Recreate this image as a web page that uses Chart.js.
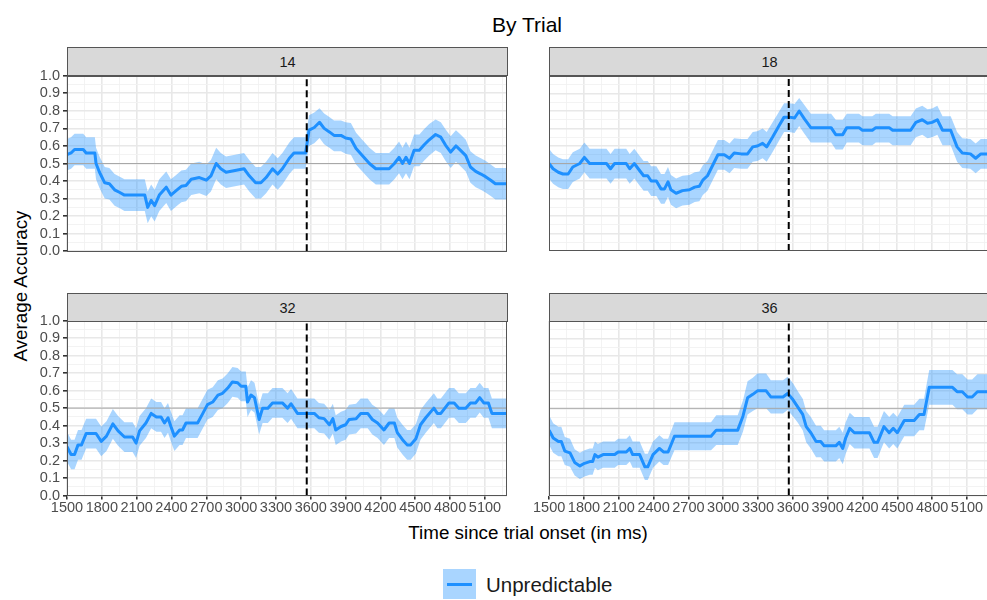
<!DOCTYPE html>
<html>
<head>
<meta charset="utf-8">
<script src="https://cdn.jsdelivr.net/npm/chart.js@4.4.1/dist/chart.umd.min.js"></script>
<style>
html,body{margin:0;padding:0;}
body{width:987px;height:600px;position:relative;overflow:hidden;background:#fff;font-family:"Liberation Sans",Arial,Helvetica,sans-serif;color:#000;}
.wrap{position:absolute;}
.wrap canvas{display:block;}
.strip{position:absolute;height:29px;width:441px;background:#d9d9d9;border:1px solid #555;box-sizing:border-box;font-size:14.5px;color:#1a1a1a;display:flex;align-items:center;justify-content:center;}
#title{position:absolute;left:527px;top:25px;transform:translate(-50%,-50%);font-size:21px;white-space:nowrap;}
#xtitle{position:absolute;left:528px;top:533px;transform:translate(-50%,-50%);font-size:18.8px;white-space:nowrap;}
#ytitle{position:absolute;left:21px;top:286px;transform:translate(-50%,-50%) rotate(-90deg);font-size:18.8px;white-space:nowrap;}
#legkey{position:absolute;left:443px;top:569px;width:33px;height:30px;background:rgba(30,144,255,0.38);}
#legkey div{position:absolute;left:4px;top:14px;width:25px;height:3px;background:#1E90FF;}
#legtext{position:absolute;left:486px;top:585px;transform:translateY(-50%);font-size:20.5px;color:#1a1a1a;white-space:nowrap;}
</style>
</head>
<body>
<div id="title">By Trial</div>
<div id="xtitle">Time since trial onset (in ms)</div>
<div id="ytitle">Average Accuracy</div>
<div id="legkey"><div></div></div>
<div id="legtext">Unpredictable</div>
<script>
// ---------- data ----------
const trials = ['14', '18', '32', '36'];
const seriesName = 'Unpredictable';
const X_MIN = 1500, X_MAX = 5290;
const onsetLine = 3565;      // dashed vertical reference (ms)
const chanceLevel = 0.5;     // grey horizontal reference
const xMajor = [1500, 1800, 2100, 2400, 2700, 3000, 3300, 3600, 3900, 4200, 4500, 4800, 5100];
const xTickLabels = ['1500', '1800', '2100', '2400', '2700', '3000', '3300', '3600', '3900', '4200', '4500', '4800', '5100'];
const yMajor = [0, 0.1, 0.2, 0.3, 0.4, 0.5, 0.6, 0.7, 0.8, 0.9, 1.0];
const yTickLabels = ['0.0', '0.1', '0.2', '0.3', '0.4', '0.5', '0.6', '0.7', '0.8', '0.9', '1.0'];

// Trial 14
const time14 = [1500,1535,1565,1640,1665,1740,1750,1780,1825,1865,1910,1955,1995,2170,2195,2225,2255,2295,2355,2395,2440,2485,2525,2570,2640,2700,2740,2785,2825,2870,3025,3070,3125,3170,3215,3270,3315,3355,3415,3455,3555,3585,3630,3675,3715,3760,3800,3860,3900,3945,3990,4030,4105,4160,4275,4320,4360,4390,4420,4450,4490,4535,4575,4620,4675,4720,4760,4805,4850,4890,4935,4975,5020,5065,5105,5150,5190,5290];
const acc14 = [0.55,0.56,0.58,0.58,0.56,0.56,0.50,0.45,0.39,0.385,0.35,0.335,0.32,0.32,0.25,0.29,0.26,0.32,0.365,0.32,0.345,0.37,0.375,0.41,0.42,0.405,0.43,0.50,0.47,0.45,0.47,0.43,0.39,0.39,0.42,0.47,0.44,0.47,0.53,0.56,0.56,0.69,0.705,0.735,0.70,0.68,0.66,0.66,0.645,0.64,0.585,0.555,0.50,0.47,0.47,0.50,0.535,0.50,0.535,0.50,0.575,0.575,0.605,0.635,0.665,0.65,0.605,0.565,0.60,0.575,0.545,0.48,0.455,0.44,0.425,0.405,0.385,0.385];
const upper14 = [0.64,0.65,0.67,0.67,0.65,0.65,0.59,0.54,0.48,0.475,0.44,0.425,0.41,0.41,0.34,0.38,0.35,0.41,0.455,0.41,0.435,0.46,0.465,0.50,0.51,0.495,0.52,0.59,0.56,0.54,0.56,0.52,0.48,0.48,0.51,0.56,0.53,0.56,0.62,0.65,0.65,0.775,0.79,0.815,0.785,0.765,0.745,0.745,0.735,0.73,0.675,0.645,0.59,0.56,0.56,0.59,0.625,0.59,0.625,0.59,0.665,0.665,0.695,0.725,0.75,0.735,0.695,0.655,0.69,0.665,0.635,0.57,0.545,0.53,0.515,0.495,0.475,0.475];
const lower14 = [0.46,0.47,0.49,0.49,0.47,0.47,0.41,0.36,0.30,0.295,0.26,0.245,0.23,0.23,0.16,0.20,0.17,0.23,0.275,0.23,0.255,0.28,0.285,0.32,0.33,0.315,0.34,0.41,0.38,0.36,0.38,0.34,0.30,0.30,0.33,0.38,0.35,0.38,0.44,0.47,0.47,0.60,0.615,0.645,0.61,0.59,0.57,0.57,0.555,0.55,0.495,0.465,0.41,0.38,0.38,0.41,0.445,0.41,0.445,0.41,0.485,0.485,0.515,0.545,0.575,0.56,0.515,0.475,0.51,0.485,0.455,0.39,0.365,0.35,0.335,0.315,0.295,0.295];

// Trial 18
const time18 = [1500,1535,1580,1620,1665,1705,1765,1805,1850,1995,2030,2065,2165,2195,2235,2280,2315,2350,2380,2425,2465,2495,2525,2550,2595,2650,2710,2755,2795,2825,2865,2910,2955,3010,3055,3095,3155,3210,3255,3295,3340,3375,3425,3485,3525,3570,3615,3655,3700,3755,3930,3970,4030,4065,4170,4200,4285,4315,4430,4460,4615,4660,4715,4760,4800,4845,4890,4960,5015,5060,5130,5175,5220,5290];
const acc18 = [0.50,0.47,0.45,0.44,0.44,0.48,0.50,0.535,0.50,0.50,0.47,0.50,0.50,0.47,0.50,0.46,0.43,0.43,0.40,0.40,0.355,0.355,0.395,0.35,0.33,0.345,0.35,0.365,0.37,0.405,0.43,0.49,0.55,0.55,0.53,0.56,0.555,0.555,0.595,0.60,0.615,0.595,0.65,0.72,0.765,0.765,0.76,0.80,0.755,0.705,0.705,0.665,0.665,0.705,0.705,0.69,0.69,0.705,0.705,0.69,0.69,0.735,0.75,0.73,0.735,0.75,0.69,0.69,0.595,0.56,0.555,0.53,0.555,0.555];
const upper18 = [0.585,0.555,0.535,0.525,0.525,0.565,0.585,0.62,0.585,0.585,0.555,0.585,0.585,0.555,0.585,0.545,0.515,0.515,0.485,0.485,0.44,0.44,0.48,0.435,0.415,0.43,0.435,0.45,0.455,0.49,0.515,0.575,0.635,0.635,0.615,0.645,0.64,0.64,0.68,0.685,0.70,0.68,0.735,0.80,0.845,0.845,0.84,0.875,0.835,0.785,0.785,0.75,0.75,0.785,0.785,0.77,0.77,0.785,0.785,0.77,0.77,0.815,0.83,0.81,0.815,0.83,0.77,0.77,0.68,0.645,0.64,0.615,0.64,0.64];
const lower18 = [0.415,0.385,0.365,0.355,0.355,0.395,0.415,0.45,0.415,0.415,0.385,0.415,0.415,0.385,0.415,0.375,0.345,0.345,0.315,0.315,0.27,0.27,0.31,0.265,0.245,0.26,0.265,0.28,0.285,0.32,0.345,0.405,0.465,0.465,0.445,0.475,0.47,0.47,0.51,0.515,0.53,0.51,0.565,0.635,0.68,0.68,0.675,0.715,0.67,0.62,0.62,0.58,0.58,0.62,0.62,0.605,0.605,0.62,0.62,0.605,0.605,0.65,0.665,0.645,0.65,0.665,0.605,0.605,0.51,0.475,0.47,0.445,0.47,0.47];

// Trial 32
const time32 = [1500,1535,1565,1595,1625,1665,1750,1795,1840,1895,1940,1995,2065,2095,2125,2180,2225,2270,2310,2340,2370,2395,2425,2470,2495,2525,2625,2670,2710,2755,2800,2840,2885,2925,2970,3000,3040,3055,3085,3115,3155,3185,3230,3270,3355,3400,3430,3485,3630,3670,3715,3760,3790,3815,3860,3900,3930,3990,4030,4090,4130,4175,4230,4275,4320,4345,4390,4430,4460,4505,4545,4590,4660,4690,4720,4790,4835,4875,4935,4975,5020,5055,5090,5130,5160,5290];
const acc32 = [0.28,0.235,0.235,0.29,0.29,0.355,0.355,0.31,0.34,0.41,0.37,0.335,0.335,0.30,0.37,0.415,0.47,0.45,0.45,0.415,0.445,0.395,0.34,0.375,0.375,0.415,0.415,0.47,0.52,0.535,0.575,0.585,0.615,0.65,0.645,0.625,0.625,0.535,0.575,0.56,0.435,0.50,0.50,0.53,0.53,0.50,0.525,0.47,0.47,0.445,0.44,0.405,0.44,0.375,0.395,0.405,0.435,0.44,0.47,0.47,0.435,0.415,0.375,0.415,0.415,0.36,0.32,0.29,0.29,0.325,0.405,0.445,0.50,0.47,0.47,0.53,0.53,0.50,0.50,0.53,0.53,0.56,0.53,0.53,0.47,0.47];
const upper32 = [0.365,0.32,0.32,0.375,0.375,0.44,0.44,0.395,0.425,0.495,0.455,0.42,0.42,0.385,0.455,0.50,0.555,0.535,0.535,0.50,0.53,0.48,0.425,0.46,0.46,0.50,0.50,0.555,0.605,0.62,0.66,0.67,0.70,0.735,0.73,0.71,0.71,0.62,0.66,0.645,0.52,0.585,0.585,0.615,0.615,0.585,0.61,0.555,0.555,0.53,0.525,0.49,0.525,0.46,0.48,0.49,0.52,0.525,0.555,0.555,0.52,0.50,0.46,0.50,0.50,0.445,0.405,0.375,0.375,0.41,0.49,0.53,0.585,0.555,0.555,0.615,0.615,0.585,0.585,0.615,0.615,0.645,0.615,0.615,0.555,0.555];
const lower32 = [0.195,0.15,0.15,0.205,0.205,0.27,0.27,0.225,0.255,0.325,0.285,0.25,0.25,0.215,0.285,0.33,0.385,0.365,0.365,0.33,0.36,0.31,0.255,0.29,0.29,0.33,0.33,0.385,0.435,0.45,0.49,0.50,0.53,0.565,0.56,0.54,0.54,0.45,0.49,0.475,0.35,0.415,0.415,0.445,0.445,0.415,0.44,0.385,0.385,0.36,0.355,0.32,0.355,0.29,0.31,0.32,0.35,0.355,0.385,0.385,0.35,0.33,0.29,0.33,0.33,0.275,0.235,0.205,0.205,0.24,0.32,0.36,0.415,0.385,0.385,0.445,0.445,0.415,0.415,0.445,0.445,0.475,0.445,0.445,0.385,0.385];

// Trial 36
const time36 = [1500,1535,1580,1605,1635,1680,1720,1765,1805,1850,1875,1895,1920,1965,2065,2095,2165,2195,2220,2280,2325,2350,2395,2450,2485,2525,2580,2895,2940,3125,3170,3210,3255,3295,3370,3410,3515,3555,3600,3640,3685,3715,3755,3800,3840,3870,3970,4000,4030,4055,4090,4130,4260,4300,4330,4385,4430,4465,4500,4560,4645,4690,4730,4775,4975,5015,5060,5105,5145,5190,5290];
const acc36 = [0.375,0.33,0.31,0.31,0.255,0.245,0.19,0.17,0.185,0.195,0.195,0.235,0.22,0.235,0.235,0.25,0.25,0.27,0.235,0.235,0.165,0.165,0.235,0.27,0.25,0.25,0.34,0.34,0.375,0.375,0.455,0.56,0.58,0.60,0.60,0.565,0.565,0.585,0.55,0.51,0.465,0.395,0.36,0.31,0.31,0.285,0.285,0.305,0.27,0.33,0.385,0.36,0.36,0.305,0.305,0.395,0.36,0.385,0.36,0.43,0.43,0.465,0.465,0.62,0.62,0.595,0.595,0.565,0.565,0.595,0.595];
const upper36 = [0.46,0.415,0.395,0.395,0.335,0.325,0.265,0.245,0.26,0.27,0.27,0.31,0.295,0.31,0.31,0.325,0.325,0.345,0.31,0.31,0.24,0.24,0.31,0.345,0.325,0.325,0.42,0.42,0.46,0.46,0.545,0.655,0.675,0.70,0.70,0.66,0.66,0.68,0.645,0.60,0.555,0.485,0.45,0.40,0.40,0.375,0.375,0.395,0.36,0.42,0.475,0.45,0.45,0.395,0.395,0.485,0.45,0.475,0.45,0.52,0.52,0.555,0.555,0.72,0.72,0.695,0.695,0.665,0.665,0.695,0.695];
const lower36 = [0.29,0.245,0.225,0.225,0.175,0.165,0.115,0.095,0.11,0.12,0.12,0.16,0.145,0.16,0.16,0.175,0.175,0.195,0.16,0.16,0.09,0.09,0.16,0.195,0.175,0.175,0.26,0.26,0.29,0.29,0.365,0.465,0.485,0.50,0.50,0.47,0.47,0.49,0.455,0.42,0.375,0.305,0.27,0.22,0.22,0.195,0.195,0.215,0.18,0.24,0.295,0.27,0.27,0.215,0.215,0.305,0.27,0.295,0.27,0.34,0.34,0.375,0.375,0.52,0.52,0.495,0.495,0.465,0.465,0.495,0.495];

// ---------- styling ----------
const LINE_COL = '#1E90FF';
const RIBBON_COL = 'rgba(30,144,255,0.38)';
const GRID_MAJOR = '#e8e8e8', GRID_MINOR = '#f2f2f2';
const BORDER_COL = '#555555';
const FONT = '"Liberation Sans", Arial, Helvetica, sans-serif';
const TICK_SIZE = 14.5;

const isMajorX = v => xMajor.indexOf(v) >= 0;
const isMajorY = v => yMajor.some(m => Math.abs(m - v) < 1e-6);

const panelBorder = {
  id: 'panelBorder',
  afterDatasetsDraw(chart) {
    const a = chart.chartArea, ctx = chart.ctx;
    ctx.save();
    ctx.strokeStyle = BORDER_COL;
    ctx.lineWidth = 1;
    ctx.strokeRect(Math.round(a.left) + 0.5, Math.round(a.top) + 0.5,
                   Math.round(a.right - a.left) - 1, Math.round(a.bottom - a.top) - 1);
    ctx.restore();
  }
};

function makeConfig(t, acc, lo, hi, showX, showY) {
  const pts = arr => t.map((x, i) => ({ x: x, y: arr[i] }));
  return {
    type: 'line',
    data: {
      datasets: [
        { label: 'lower', data: pts(lo), borderWidth: 0, pointRadius: 0, fill: false, order: 4, tension: 0 },
        { label: 'upper', data: pts(hi), borderWidth: 0, pointRadius: 0, fill: '-1', backgroundColor: RIBBON_COL, order: 3, tension: 0 },
        { label: 'chance', data: [{ x: X_MIN, y: chanceLevel }, { x: X_MAX, y: chanceLevel }], borderColor: '#a8a8a8', borderWidth: 1, pointRadius: 0, fill: false, order: 2 },
        { label: seriesName, data: pts(acc), borderColor: LINE_COL, borderWidth: 3, pointRadius: 0, fill: false, order: 1, tension: 0, borderJoinStyle: 'round' },
        { label: 'onset', data: [{ x: onsetLine, y: 0 }, { x: onsetLine, y: 1 }], borderColor: '#000', borderWidth: 2, borderDash: [7, 4], pointRadius: 0, fill: false, order: 0 }
      ]
    },
    options: {
      responsive: false,
      maintainAspectRatio: false,
      animation: false,
      events: [],
      layout: { padding: 0 },
      plugins: { legend: { display: false }, tooltip: { enabled: false }, title: { display: false } },
      scales: {
        x: {
          type: 'linear', min: X_MIN, max: X_MAX,
          afterBuildTicks: s => { const tk = []; for (let v = X_MIN; v <= X_MAX; v += 150) tk.push({ value: v }); s.ticks = tk; },
          afterFit: s => { if (!showX) s.height = 0; },
          border: { display: false },
          grid: {
            drawOnChartArea: true, drawTicks: showX, tickLength: 4,
            color: c => isMajorX(c.tick.value) ? GRID_MAJOR : GRID_MINOR,
            lineWidth: c => isMajorX(c.tick.value) ? 1.6 : 0.9,
            tickColor: c => isMajorX(c.tick.value) ? '#333333' : 'rgba(0,0,0,0)'
          },
          ticks: {
            display: showX, autoSkip: false, maxRotation: 0, minRotation: 0, padding: 0,
            color: '#4d4d4d', font: { family: FONT, size: TICK_SIZE },
            callback: v => { const i = xMajor.indexOf(v); return i >= 0 ? xTickLabels[i] : ''; }
          }
        },
        y: {
          type: 'linear', min: 0, max: 1,
          afterBuildTicks: s => { const tk = []; for (let k = 0; k <= 20; k++) tk.push({ value: k / 20 }); s.ticks = tk; },
          afterFit: s => { s.width = showY ? 67 : 0; },
          border: { display: false },
          grid: {
            drawOnChartArea: true, drawTicks: showY, tickLength: 4,
            color: c => isMajorY(c.tick.value) ? GRID_MAJOR : GRID_MINOR,
            lineWidth: c => isMajorY(c.tick.value) ? 1.6 : 0.9,
            tickColor: c => isMajorY(c.tick.value) ? '#333333' : 'rgba(0,0,0,0)'
          },
          ticks: {
            display: showY, autoSkip: false, padding: 3,
            color: '#4d4d4d', font: { family: FONT, size: TICK_SIZE },
            callback: v => { const i = yMajor.findIndex(m => Math.abs(m - v) < 1e-6); return i >= 0 ? yTickLabels[i] : ''; }
          }
        }
      }
    },
    plugins: [panelBorder]
  };
}

function buildPanel(target, mk) {
  const wrap = document.createElement('div');
  wrap.className = 'wrap';
  document.body.appendChild(wrap);
  let cv = document.createElement('canvas');
  cv.width = target.w + 200; cv.height = target.h + 100;
  wrap.appendChild(cv);
  let ch = new Chart(cv, mk());
  const a = ch.chartArea;
  const mL = Math.round(a.left), mT = Math.round(a.top);
  const mR = Math.round(ch.width - a.right), mB = Math.round(ch.height - a.bottom);
  ch.destroy();
  wrap.removeChild(cv);
  cv = document.createElement('canvas');
  const W = target.w + mL + mR, H = target.h + mT + mB;
  cv.width = W; cv.height = H;
  cv.style.width = W + 'px'; cv.style.height = H + 'px';
  wrap.appendChild(cv);
  wrap.style.left = (target.l - mL) + 'px';
  wrap.style.top = (target.t - mT) + 'px';
  return new Chart(cv, mk());
}

const panels = [
  { name: trials[0], t: time14, acc: acc14, lo: lower14, hi: upper14, l: 67, t0: 76, showX: false, showY: true, sTop: 47 },
  { name: trials[1], t: time18, acc: acc18, lo: lower18, hi: upper18, l: 549, t0: 76, showX: false, showY: false, sTop: 47 },
  { name: trials[2], t: time32, acc: acc32, lo: lower32, hi: upper32, l: 67, t0: 321, showX: true, showY: true, sTop: 293 },
  { name: trials[3], t: time36, acc: acc36, lo: lower36, hi: upper36, l: 549, t0: 321, showX: true, showY: false, sTop: 293 }
];

panels.forEach(p => {
  buildPanel({ l: p.l, t: p.t0, w: 440, h: 175 }, () => makeConfig(p.t, p.acc, p.lo, p.hi, p.showX, p.showY));
  const s = document.createElement('div');
  s.className = 'strip';
  s.style.left = p.l + 'px';
  s.style.top = p.sTop + 'px';
  s.textContent = p.name;
  document.body.appendChild(s);
});
</script>
</body>
</html>
